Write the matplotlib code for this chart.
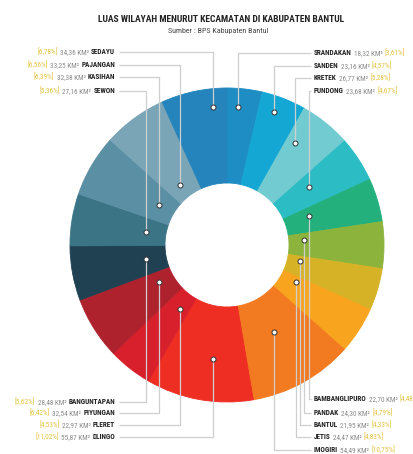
import matplotlib
matplotlib.use("Agg")
import matplotlib.pyplot as plt
from matplotlib import font_manager
from matplotlib.font_manager import FontProperties
from matplotlib.offsetbox import TextArea, HPacker, AnnotationBbox

# ---------------- data ----------------
names = ["SRANDAKAN", "SANDEN", "KRETEK", "PUNDONG", "BAMBANGLIPURO", "PANDAK",
         "BANTUL", "JETIS", "IMOGIRI", "DLINGO", "PLERET", "PIYUNGAN",
         "BANGUNTAPAN", "SEWON", "KASIHAN", "PAJANGAN", "SEDAYU"]
areas = [18.32, 23.16, 26.77, 23.68, 22.70, 24.30,
         21.95, 24.47, 54.49, 55.87, 22.97, 32.54,
         28.48, 27.16, 32.38, 33.25, 34.36]
colors = ["#1e8dc3", "#15a7d3", "#73cbd2", "#2cbcc4", "#23b07d", "#8cb43c",
          "#d6b326", "#f8a41e", "#f27a20", "#ee2d23", "#d8202c", "#ae222e",
          "#1f4152", "#3b7585", "#5b8fa3", "#79a5b7", "#2484bb"]

title = "LUAS WILAYAH MENURUT KECAMATAN DI KABUPATEN BANTUL"
subtitle = "Sumber : BPS Kabupaten Bantul"

# ---------------- layout (pixel coords, y down) ----------------
W, H = 414, 454
CX, CY, R_OUT, R_IN = 227, 245, 157, 62
layout = {
    "SEDAYU":        ((213, 107), 52, "L"),
    "PAJANGAN":      ((180, 185), 65, "L"),
    "KASIHAN":       ((159, 205), 77, "L"),
    "SEWON":         ((146, 232), 91, "L"),
    "SRANDAKAN":     ((238, 107), 53, "R"),
    "SANDEN":        ((274, 112), 66, "R"),
    "KRETEK":        ((295, 143), 78, "R"),
    "PUNDONG":       ((309, 187), 91, "R"),
    "BAMBANGLIPURO": ((309, 216), 399, "R"),
    "PANDAK":        ((304, 240), 413, "R"),
    "BANTUL":        ((300, 261), 425, "R"),
    "JETIS":         ((296, 282), 437, "R"),
    "IMOGIRI":       ((274, 332), 450, "R"),
    "BANGUNTAPAN":   ((146, 259), 402, "L"),
    "PIYUNGAN":      ((159, 282), 413, "L"),
    "PLERET":        ((180, 309), 425, "L"),
    "DLINGO":        ((213, 359), 437, "L"),
}
LEFT_TEXT_X, LEFT_LINE_X = 115, 119
RIGHT_TEXT_X, RIGHT_LINE_X = 314, 311


# ---------------- font selection (prefer a condensed face) ----------------
def pick_font(bold):
    prefs = ["Roboto Condensed", "Open Sans Condensed", "Liberation Sans Narrow",
             "Noto Sans Condensed", "DejaVu Sans"]
    cands = []
    for f in font_manager.fontManager.ttflist:
        st = str(f.stretch).lower()
        nm = f.name
        if f.style != "normal":
            continue
        if ("condensed" in st or "narrow" in st or "Condensed" in nm or "Narrow" in nm
                or "Condensed" in f.fname or "Narrow" in f.fname):
            w = f.weight if isinstance(f.weight, int) else (700 if "bold" in str(f.weight) else 400)
            if bold and w < 600:
                continue
            if not bold and w >= 600:
                continue
            if "extra" in st or "ultra" in st:
                continue
            rank = next((i for i, p in enumerate(prefs) if p in nm), len(prefs))
            cands.append((rank, abs(w - (700 if bold else 400)), f.fname))
    if cands:
        cands.sort()
        return FontProperties(fname=cands[0][2])
    return FontProperties(family="DejaVu Sans", weight="bold" if bold else "normal")


FP_REG = pick_font(False)
FP_BOLD = pick_font(True)

fig = plt.figure(figsize=(W / 100, H / 100), dpi=100)
ax = fig.add_axes([0, 0, 1, 1])
renderer = fig.canvas.get_renderer()


def fit_size(text, fp, target_px, ref=10.0):
    p = fp.copy()
    p.set_size(ref)
    t = fig.text(0, 0, text, fontproperties=p)
    w = t.get_window_extent(renderer).width
    t.remove()
    return ref * target_px / w


def py(y):
    return H - y


total = sum(areas)
wedges, _ = ax.pie(areas, colors=colors, startangle=90, counterclock=False,
                   center=(CX, py(CY)), radius=R_OUT,
                   wedgeprops=dict(width=R_OUT - R_IN))
for w_ in wedges:
    w_.set_edgecolor(w_.get_facecolor())
    w_.set_linewidth(0.6)
ax.set_xlim(0, W)
ax.set_ylim(0, H)
ax.set_aspect("equal")
ax.axis("off")

# label font size fitted so that the SEDAYU label is as wide as in the reference
FS = min(6.2, fit_size("[6,78%] 34,36 KM² SEDAYU", FP_REG, 76))

line_kw = dict(color="#cfcfcf", lw=0.9, zorder=3, solid_capstyle="butt")
for name, area in zip(names, areas):
    (dx, dy), ly, side = layout[name]
    if side == "L":
        ax.plot([LEFT_LINE_X, dx, dx], [py(ly), py(ly), py(dy)], **line_kw)
    else:
        ax.plot([RIGHT_LINE_X, dx, dx], [py(ly), py(ly), py(dy)], **line_kw)
    ax.plot(dx, py(dy), marker="o", ms=3.6, mfc="white", mec="#333333",
            mew=0.7, zorder=4)
    pct = area / total * 100
    pct_s = "[" + f"{pct:.2f}".replace(".", ",") + "%]"
    num_s = f"{area:.2f}".replace(".", ",") + " KM²"
    preg = FP_REG.copy(); preg.set_size(FS)
    pbold = FP_BOLD.copy(); pbold.set_size(FS)
    t_pct = TextArea(pct_s, textprops=dict(color="#e3c243", fontproperties=preg))
    t_num = TextArea(num_s, textprops=dict(color="#8a8a8a", fontproperties=preg))
    t_nam = TextArea(name, textprops=dict(color="#222222", fontproperties=pbold))
    if side == "L":
        box = HPacker(children=[t_pct, t_num, t_nam], sep=1.6, pad=0, align="baseline")
        ab = AnnotationBbox(box, (LEFT_TEXT_X, py(ly)), box_alignment=(1, 0.5),
                            frameon=False, pad=0)
    else:
        box = HPacker(children=[t_nam, t_num, t_pct], sep=1.6, pad=0, align="baseline")
        ab = AnnotationBbox(box, (RIGHT_TEXT_X, py(ly)), box_alignment=(0, 0.5),
                            frameon=False, pad=0)
    ax.add_artist(ab)

pt = FP_BOLD.copy(); pt.set_size(min(10, fit_size(title, FP_BOLD, 247)))
ax.text(221, py(20), title, ha="center", va="center", fontproperties=pt,
        color="#222222")
ps = FP_REG.copy(); ps.set_size(min(6.5, fit_size(subtitle, FP_REG, 100)))
ps.set_style("italic")
ax.text(218, py(31), subtitle, ha="center", va="center", fontproperties=ps,
        color="#444444", style="italic")

fig.savefig("out.png", dpi=100, facecolor="white")
